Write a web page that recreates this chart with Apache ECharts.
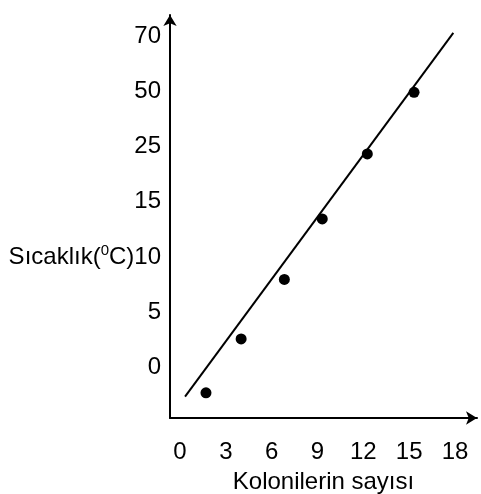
<!DOCTYPE html>
<html>
<head>
<meta charset="utf-8">
<script src="https://cdn.jsdelivr.net/npm/echarts@6/dist/echarts.min.js"></script>
<style>
  html, body { margin: 0; padding: 0; background: #fff; }
  #main { width: 481px; height: 494px; }
</style>
</head>
<body>
<div id="main"></div>
<script>
// y axis is evenly spaced, so values are placed by tick index
const yTickLabels = ['0', '5', '10', '15', '25', '50', '70'];
const yTickIndex = [0, 1, 2, 3, 4, 5, 6];
const xTicks = [0, 3, 6, 9, 12, 15, 18];

// measured points: [colonies, tick index]
const pointsX = [1.7, 4.0, 6.83, 9.31, 12.26, 15.32];
const pointsY = [-0.47, 0.51, 1.59, 2.69, 3.87, 4.99];

// fitted line end points
const lineX = [0.33, 17.89];
const lineY = [-0.54, 6.07];

const chart = echarts.init(document.getElementById('main'));

const font = 'Liberation Sans, Arial, sans-serif';

const option = {
    animation: false,
    backgroundColor: '#fff',
    textStyle: { fontFamily: font, color: '#000' },
    grid: {
        left: 170,
        right: 4,
        top: 15,
        bottom: 76,
        outerBoundsMode: 'none',
        containLabel: false
    },
    xAxis: {
        type: 'value',
        min: -0.655,
        max: 19.44,
        name: 'Kolonilerin sayısı',
        nameLocation: 'middle',
        nameGap: 52,
        nameTextStyle: { fontSize: 24, color: '#000', fontFamily: font },
        axisLine: {
            onZero: false,
            lineStyle: { color: '#000', width: 2 },
            symbol: ['none', 'arrow'],
            symbolSize: [10, 11]
        },
        axisTick: { show: false },
        splitLine: { show: false },
        axisLabel: {
            customValues: xTicks,
            margin: 22,
            fontSize: 24,
            color: '#000',
            fontFamily: font
        }
    },
    yAxis: {
        type: 'value',
        min: -0.927,
        max: 6.394,
        axisLine: {
            show: true,
            onZero: false,
            lineStyle: { color: '#000', width: 2 },
            symbol: ['none', 'arrow'],
            symbolSize: [10, 11]
        },
        axisTick: { show: false },
        splitLine: { show: false },
        axisLabel: {
            customValues: yTickIndex,
            margin: 9,
            fontSize: 24,
            color: '#000',
            fontFamily: font,
            formatter: function (v) {
                const t = yTickLabels[Math.round(v)];
                if (t === '10') {
                    return '{n|Sıcaklık(}{sup|0}{n|C)10}';
                }
                return t;
            },
            rich: {
                n: { fontSize: 24, lineHeight: 28, color: '#000', fontFamily: font },
                sup: { fontSize: 15, lineHeight: 15, color: '#000', fontFamily: font, verticalAlign: 'top' }
            }
        }
    },
    series: [
        {
            type: 'line',
            data: lineX.map((x, i) => [x, lineY[i]]),
            symbol: 'none',
            lineStyle: { color: '#000', width: 2 },
            z: 2
        },
        {
            type: 'scatter',
            data: pointsX.map((x, i) => [x, pointsY[i]]),
            symbol: 'circle',
            symbolSize: 11,
            itemStyle: { color: '#000', opacity: 1 },
            z: 3
        }
    ]
};

chart.setOption(option);
</script>
</body>
</html>
